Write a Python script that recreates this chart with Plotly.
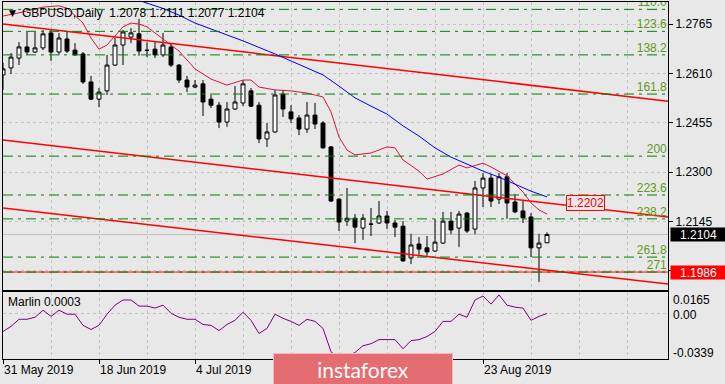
import pandas as pd
import plotly.graph_objects as go
from plotly.subplots import make_subplots

# ---------------- data ----------------
dates = pd.bdate_range("2019-05-31", "2019-09-04")
date_labels = [f"{d.day} {d:%b %Y}" for d in dates]

opens = [1.2605, 1.2627, 1.2658, 1.2693, 1.2677, 1.2690, 1.2737, 1.2677, 1.2718, 1.2683,
         1.2671, 1.2583, 1.2529, 1.2555, 1.2636, 1.2699, 1.2724, 1.2734, 1.2683, 1.2686,
         1.2668, 1.2693, 1.2636, 1.2589, 1.2567, 1.2577, 1.2529, 1.2510, 1.2457, 1.2498,
         1.2517, 1.2555, 1.2510, 1.2404, 1.2426, 1.2545, 1.2489, 1.2470, 1.2435, 1.2479,
         1.2454, 1.2379, 1.2215, 1.2146, 1.2155, 1.2124, 1.2137, 1.2140, 1.2162, 1.2140,
         1.2130, 1.2030, 1.2074, 1.2062, 1.2052, 1.2077, 1.2146, 1.2124, 1.2171, 1.2121,
         1.2250, 1.2281, 1.2215, 1.2285, 1.2206, 1.2178, 1.2159, 1.2062, 1.2078]
highs = [1.2643, 1.2674, 1.2708, 1.2740, 1.2740, 1.2746, 1.2749, 1.2737, 1.2740, 1.2705,
         1.2677, 1.2602, 1.2564, 1.2668, 1.2721, 1.2746, 1.2752, 1.2781, 1.2708, 1.2708,
         1.2737, 1.2705, 1.2639, 1.2602, 1.2589, 1.2589, 1.2542, 1.2520, 1.2520, 1.2570,
         1.2589, 1.2564, 1.2520, 1.2454, 1.2558, 1.2558, 1.2510, 1.2479, 1.2520, 1.2517,
         1.2460, 1.2382, 1.2218, 1.2250, 1.2168, 1.2168, 1.2187, 1.2209, 1.2178, 1.2149,
         1.2146, 1.2106, 1.2096, 1.2099, 1.2152, 1.2175, 1.2175, 1.2178, 1.2175, 1.2272,
         1.2297, 1.2294, 1.2297, 1.2297, 1.2231, 1.2212, 1.2171, 1.2106, 1.2111]
lows = [1.2558, 1.2608, 1.2636, 1.2668, 1.2674, 1.2683, 1.2649, 1.2668, 1.2674, 1.2665,
        1.2577, 1.2526, 1.2504, 1.2542, 1.2633, 1.2636, 1.2705, 1.2665, 1.2661, 1.2658,
        1.2661, 1.2630, 1.2580, 1.2551, 1.2564, 1.2476, 1.2501, 1.2438, 1.2442, 1.2495,
        1.2507, 1.2504, 1.2391, 1.2379, 1.2423, 1.2473, 1.2454, 1.2416, 1.2423, 1.2435,
        1.2374, 1.2206, 1.2115, 1.2131, 1.2077, 1.2087, 1.2099, 1.2137, 1.2121, 1.2096,
        1.2018, 1.2011, 1.2040, 1.2037, 1.2049, 1.2074, 1.2105, 1.2065, 1.2109, 1.2105,
        1.2190, 1.2190, 1.2200, 1.2153, 1.2171, 1.2140, 1.2033, 1.1955, 1.2077]
closes = [1.2624, 1.2661, 1.2693, 1.2677, 1.2690, 1.2734, 1.2677, 1.2721, 1.2680, 1.2668,
          1.2583, 1.2529, 1.2551, 1.2636, 1.2699, 1.2740, 1.2737, 1.2680, 1.2682, 1.2668,
          1.2699, 1.2636, 1.2589, 1.2567, 1.2573, 1.2520, 1.2510, 1.2457, 1.2498, 1.2520,
          1.2577, 1.2507, 1.2404, 1.2426, 1.2542, 1.2498, 1.2467, 1.2435, 1.2479, 1.2451,
          1.2376, 1.2209, 1.2143, 1.2155, 1.2127, 1.2155, 1.2136, 1.2162, 1.2140, 1.2127,
          1.2021, 1.2071, 1.2058, 1.2049, 1.2080, 1.2146, 1.2118, 1.2168, 1.2115, 1.2250,
          1.2281, 1.2209, 1.2285, 1.2203, 1.2175, 1.2156, 1.2062, 1.2077, 1.2104]

marlin = [-0.0132, -0.0094, -0.0040, -0.0040, -0.0025, 0.0028, -0.0018, 0.0028, -0.0002, -0.0002,
          -0.0086, -0.0117, -0.0086, -0.0002, 0.0066, 0.0105, 0.0105, 0.0059, 0.0059, 0.0044,
          0.0066, 0.0005, -0.0025, -0.0040, -0.0040, -0.0079, -0.0086, -0.0125, -0.0079, -0.0048,
          0.0013, -0.0048, -0.0147, -0.0109, -0.0002, -0.0033, -0.0056, -0.0086, -0.0040, -0.0056,
          -0.0109, -0.0285, -0.0335, -0.0320, -0.0290, -0.0239, -0.0224, -0.0193, -0.0193, -0.0193,
          -0.0262, -0.0201, -0.0193, -0.0170, -0.0132, -0.0056, -0.0056, -0.0002, -0.0025, 0.0105,
          0.0135, 0.0074, 0.0143, 0.0066, 0.0051, 0.0044, -0.0048, -0.0018, 0.0003]

# fast moving average (crimson), read at bar positions
ma_fast_bars = [0, 2, 5, 7, 8, 10, 11, 12, 13, 15, 16, 17, 18, 19, 21, 22, 24, 26, 28, 30,
                31, 32, 34, 36, 38, 40, 41, 42, 43, 44, 46, 48, 49, 50, 52, 53, 55, 57, 58, 60,
                61, 63, 65, 66, 67, 68]
ma_fast = [1.2790, 1.2800, 1.2818, 1.2822, 1.2815, 1.2768, 1.2721, 1.2686, 1.2699, 1.2756,
           1.2768, 1.2765, 1.2756, 1.2737, 1.2699, 1.2680, 1.2624, 1.2592, 1.2573, 1.2589,
           1.2589, 1.2567, 1.2558, 1.2555, 1.2548, 1.2536, 1.2489, 1.2410, 1.2369, 1.2354,
           1.2360, 1.2379, 1.2376, 1.2338, 1.2303, 1.2278, 1.2294, 1.2322, 1.2313, 1.2328,
           1.2316, 1.2288, 1.2237, 1.2203, 1.2181, 1.2168]

# slow moving average (blue)
ma_slow_bars = [16, 17, 20, 22, 24, 28, 30, 34, 38, 40, 42, 44, 46, 48, 50, 52, 54, 56, 58,
                60, 62, 64, 66, 68]
ma_slow = [1.2850, 1.2839, 1.2814, 1.2793, 1.2768, 1.2732, 1.2712, 1.2671, 1.2627, 1.2605,
           1.2570, 1.2533, 1.2507, 1.2482, 1.2445, 1.2413, 1.2376, 1.2347, 1.2325, 1.2303,
           1.2284, 1.2262, 1.2240, 1.2222]

# trend channel lines (anchor bars and prices)
trend_bars = [0, 84]
trend_upper = [1.2765, 1.2520]
trend_middle = [1.2401, 1.2156]
trend_lower = [1.2187, 1.1946]
trend_label_bar = 70.4
trend_label_price = 1.2202

fib_names = ["110.0", "123.6", "138.2", "161.8", "200", "223.6", "238.2", "261.8", "271"]
fib_levels = [1.2811, 1.2742, 1.2668, 1.2545, 1.2350, 1.2228, 1.2153, 1.2033, 1.1986]

support_level = 1.1986
price_ticks = [1.1990, 1.2145, 1.2300, 1.2455, 1.2610, 1.2765]
price_tick_text = ["", "1.2145", "1.2300", "1.2455", "1.2610", "1.2765"]
marlin_ticks = [0.0165, 0.00, -0.0339]
marlin_tick_text = ["0.0165", "0.00", "-0.0339"]
# date ticks whose labels sit under the watermark in the original
hidden_date_ticks = [36, 48]

# ---------------- styling ----------------
BG = "#E8E8E8"
GRID = "#C4C4C4"
FONT = "Liberation Sans"
FIB_LINE = "#008000"
FIB_TEXT = "#5E9A1A"

xs = list(range(len(dates)))
tick_idx = list(range(0, len(dates), 12))
tick_text = ["" if i in hidden_date_ticks else date_labels[i] for i in tick_idx]
x_range = [0, 83.125]

fig = make_subplots(rows=2, cols=1, shared_xaxes=True, vertical_spacing=0.005)

fig.add_trace(go.Candlestick(
    x=xs, open=opens, high=highs, low=lows, close=closes,
    increasing=dict(fillcolor="white", line=dict(color="black", width=1)),
    decreasing=dict(fillcolor="black", line=dict(color="black", width=1)),
    whiskerwidth=0, hoverinfo="skip", showlegend=False), row=1, col=1)

for ys in (trend_upper, trend_middle, trend_lower):
    fig.add_trace(go.Scatter(x=trend_bars, y=ys, mode="lines",
                             line=dict(color="#FF0000", width=1.5),
                             hoverinfo="skip", showlegend=False), row=1, col=1)

fig.add_trace(go.Scatter(x=ma_fast_bars, y=ma_fast, mode="lines",
                         line=dict(color="#DC143C", width=1),
                         hoverinfo="skip", showlegend=False), row=1, col=1)
fig.add_trace(go.Scatter(x=ma_slow_bars, y=ma_slow, mode="lines",
                         line=dict(color="#0000FF", width=1),
                         hoverinfo="skip", showlegend=False), row=1, col=1)

fig.add_trace(go.Scatter(x=[x_range[1] - 0.15] * len(fib_levels), y=fib_levels,
                         mode="text", text=fib_names, textposition="top left",
                         textfont=dict(family=FONT, size=12, color=FIB_TEXT),
                         cliponaxis=True, hoverinfo="skip", showlegend=False), row=1, col=1)

fig.add_trace(go.Scatter(x=xs, y=marlin, mode="lines",
                         line=dict(color="#800080", width=1),
                         hoverinfo="skip", showlegend=False), row=2, col=1)

shapes = []
shapes.append(dict(type="line", xref="x domain", x0=0, x1=1, yref="y",
                   y0=closes[-1], y1=closes[-1], layer="below",
                   line=dict(color="#BEBEBE", width=1)))
shapes.append(dict(type="line", xref="x domain", x0=0, x1=1, yref="y",
                   y0=support_level, y1=support_level,
                   line=dict(color="#FF0000", width=1)))
for lv in fib_levels:
    shapes.append(dict(type="line", xref="x domain", x0=0, x1=1, yref="y",
                       y0=lv, y1=lv, line=dict(color=FIB_LINE, width=1, dash="10px,5px,3px,5px")))

ann = []
ann.append(dict(xref="paper", yref="paper", x=0, y=1, xanchor="left", yanchor="middle",
                xshift=4, yshift=-11, text="▼", showarrow=False,
                font=dict(family="DejaVu Sans", size=9, color="black")))
ann.append(dict(xref="paper", yref="paper", x=0, y=1, xanchor="left", yanchor="middle",
                xshift=17, yshift=-11, showarrow=False,
                text=f"GBPUSD,Daily  {opens[-1]:.4f} {highs[-1]:.4f} {lows[-1]:.4f} {closes[-1]:.4f}",
                font=dict(family=FONT, size=12, color="black")))
ann.append(dict(xref="x", yref="y", x=trend_label_bar, y=trend_label_price,
                xanchor="left", yanchor="middle", text=f"{trend_label_price:.4f}",
                showarrow=False, font=dict(family=FONT, size=12, color="#FF0000"),
                bgcolor=BG, bordercolor="#FF0000", borderwidth=1, borderpad=0))
ann.append(dict(xref="paper", yref="y", x=1, y=closes[-1], xanchor="left", yanchor="middle",
                xshift=2, text=f"{closes[-1]:.4f}", showarrow=False, width=55, height=13,
                borderpad=0, align="center", bgcolor="black",
                font=dict(family=FONT, size=12, color="white")))
ann.append(dict(xref="paper", yref="y", x=1, y=support_level, xanchor="left", yanchor="middle",
                xshift=2, text=f"{support_level:.4f}", showarrow=False, width=55, height=13,
                borderpad=0, align="center", bgcolor="#FF0000",
                font=dict(family=FONT, size=12, color="white")))
ann.append(dict(xref="paper", yref="y2 domain", x=0, y=1, xanchor="left", yanchor="middle",
                xshift=3, yshift=-10, text=f"Marlin {marlin[-1]:.4f}", showarrow=False,
                font=dict(family=FONT, size=12, color="black")))
for val, txt, shift in zip(marlin_ticks, marlin_tick_text, [-8, -1, 6]):
    ann.append(dict(xref="paper", yref="y2", x=1, y=val, xanchor="left", yanchor="middle",
                    xshift=3, yshift=shift, text=txt, showarrow=False,
                    font=dict(family=FONT, size=12, color="black")))
ann.append(dict(xref="paper", yref="paper", x=(273 - 3) / 665, y=(359 - 353) / 357,
                xanchor="left", yanchor="top", text="instaforex", showarrow=False,
                width=176, height=29, bgcolor="#E36D70", bordercolor="#F2B8B9", borderwidth=1,
                font=dict(family="Lato", size=21, color="white")))

fig.update_layout(
    width=725, height=384,
    margin=dict(l=3, r=57, t=2, b=25),
    paper_bgcolor=BG, plot_bgcolor=BG,
    font=dict(family=FONT, size=12, color="black"),
    showlegend=False, hovermode=False,
    shapes=shapes, annotations=ann,
    boxgap=0.3,
)

fig.update_xaxes(range=x_range, zeroline=False, showline=True, mirror=True,
                 linecolor="black", linewidth=1, rangeslider=dict(visible=False))
fig.update_layout(
    xaxis=dict(tickmode="linear", tick0=0, dtick=6, showticklabels=False, ticks="",
               showgrid=True, gridcolor=GRID, griddash="3px,3px"),
    xaxis2=dict(tickmode="array", tickvals=tick_idx, ticktext=tick_text,
                ticks="outside", ticklen=4, tickcolor="black",
                ticklabelposition="outside right",
                showgrid=True, gridcolor=GRID, griddash="3px,3px",
                minor=dict(tickmode="linear", tick0=0, dtick=6, ticks="",
                           showgrid=True, gridcolor=GRID, griddash="3px,3px")),
    yaxis=dict(domain=[(359 - 290) / 357, 1], range=[1.19296, 1.28341], side="right",
               tickmode="array", tickvals=price_ticks, ticktext=price_tick_text,
               ticks="outside", ticklen=4, tickcolor="black",
               showgrid=True, gridcolor=GRID, griddash="3px,3px",
               zeroline=False, showline=True, mirror=True, linecolor="black", linewidth=1),
    yaxis2=dict(domain=[0, (359 - 292) / 357], range=[-0.0339, 0.0165], side="right",
                tickmode="array", tickvals=[0], showticklabels=False, ticks="",
                showgrid=True, gridcolor=GRID, griddash="3px,3px",
                zeroline=False, showline=True, mirror=True, linecolor="black", linewidth=1),
)

fig.write_html("out.html", config={"displayModeBar": False},
               post_script="document.body.style.margin='0';")
